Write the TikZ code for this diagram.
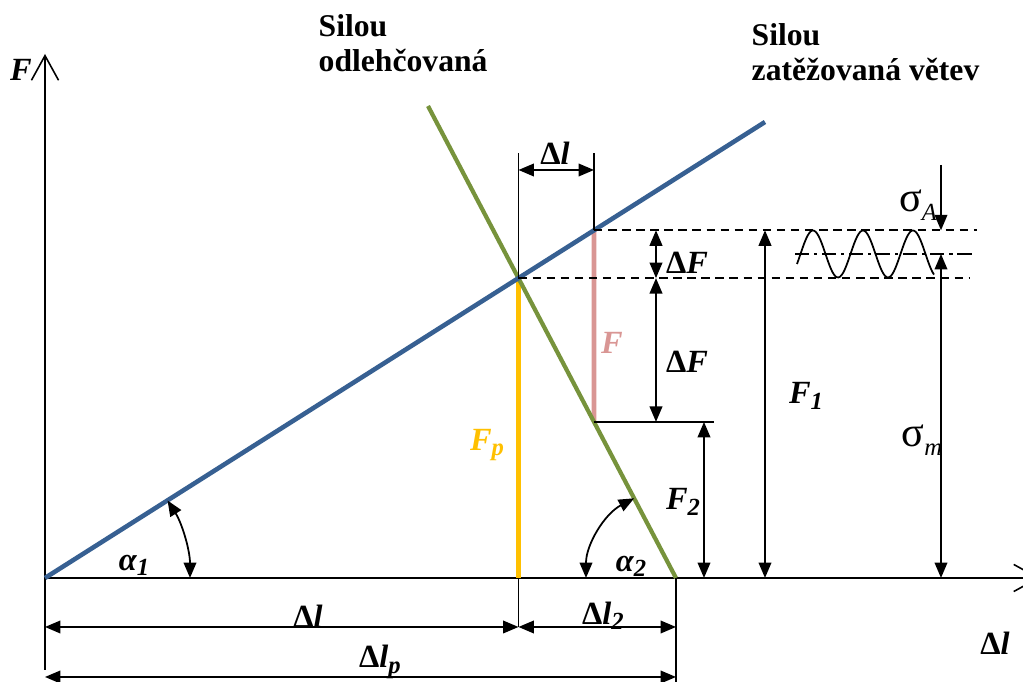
\documentclass[tikz,border=0pt]{standalone}
\usepackage{fontspec}
\setmainfont{Liberation Serif}
\usetikzlibrary{arrows.meta,calc,positioning}
\definecolor{LoadBlue}{RGB}{55,96,146}
\definecolor{UnloadGreen}{RGB}{119,147,60}
\definecolor{PreYellow}{RGB}{255,192,0}
\definecolor{ForcePink}{RGB}{217,150,148}
\newcommand{\lowidx}[2][-0.35ex]{\raisebox{#1}{\fontsize{7}{8}\selectfont #2}}
\newcommand{\dlt}{{\upshape Δ}}
\tikzset{
  axisline/.style={line width=0.45pt,-{Straight Barb[length=7pt,width=7.7pt]}},
  dimline/.style={line width=0.5pt},
  dashline/.style={line width=0.45pt,dash pattern=on 2.4pt off 1.6pt},
  midline/.style={line width=0.4pt,dash pattern=on 4pt off 1.4pt on 0.9pt off 1.4pt},
  lbl/.style={inner sep=0pt,font=\fontsize{9.2}{11}\selectfont\bfseries\itshape},
  sgm/.style={inner sep=0pt,font=\fontsize{12}{14}\selectfont},
  ttl/.style={inner sep=0pt,align=left,font=\fontsize{9}{10}\selectfont\bfseries}
}
\begin{document}
\begin{tikzpicture}[x=0.01cm,y=0.01cm,>={Triangle[length=4.4pt,width=3.6pt]}]
  \clip (0,0) rectangle (1023,682);
  \coordinate (O) at (45,104);
  \coordinate (B) at (765,560);
  \coordinate (G1) at (428,576);
  \coordinate (G) at (676,104);
  \coordinate (P) at (intersection of O--B and G1--G);
  \coordinate (Q) at ($(O)!{549/720}!(B)$);
  \coordinate (R) at ($(G1)!{166/248}!(G)$);
  \coordinate (T) at (0,529);
  \coordinate (T2) at (0,512);
  \coordinate (L1) at (45,55);
  \coordinate (L2) at (45,5);
  \coordinate (M) at (795,428);
  \coordinate (xa) at (656,0);
  \coordinate (xb) at (704,0);
  \coordinate (xc) at (765,0);
  \coordinate (xd) at (941,517);
  % osy
  \draw[axisline] (45,12) -- (45,628);
  \draw[axisline] (O) -- (1040,104);
  % charakteristiky
  \draw[line width=1.2pt,PreYellow] (P) -- (P |- O);
  \draw[line width=1.4pt,ForcePink] (Q) -- (R);
  \draw[line width=1.2pt,UnloadGreen] (G1) -- (G);
  \draw[line width=1.3pt,LoadBlue] (O) -- (B);
  % pomocne cary
  \draw[dimline] (P) -- (P |- T);
  \draw[dimline] (Q) -- (Q |- T);
  \draw[dashline] (Q) -- ++(383,0);
  \draw[dashline] (P) -- ++(452,0);
  \draw[midline] (M) -- ++(177,0);
  \draw[dimline] (R) -- ++(120,0);
  \draw[dimline] (P |- O) -- (P |- L1);
  \draw[dimline] (G) -- (G |- 0,0);
  % koty
  \draw[dimline,<->] (P |- T2) -- (Q |- T2);
  \draw[dimline,<->] (Q -| xa) -- (P -| xa);
  \draw[dimline,<->] (P -| xa) -- (R -| xa);
  \draw[dimline,<->] (R -| xb) -- (O -| xb);
  \draw[dimline,<->] (Q -| xc) -- (O -| xc);
  \draw[dimline,->] (xd) -- (Q -| xd);
  \draw[dimline,<->] (M -| xd) -- (O -| xd);
  \draw[dimline,<->] (L1) -- (P |- L1);
  \draw[dimline,<->] (P |- L1) -- (G |- L1);
  \draw[dimline,<->] (L2) -- (G |- L2);
  \draw[dimline,<->] ($(O)+(145,0)$) arc[start angle=0,end angle=32.3,radius=145];
  \draw[dimline,<->] ($(G)+(-90,0)$) arc[start angle=180,end angle=117.7,radius=90];
  % kmitani
  \draw[line width=0.5pt] plot[domain=797:934,samples=90,smooth] (\x,{428+23.5*sin(7.2*(\x-800.5))});
  % popisy
  \node[ttl,anchor=north west] (unload) at (318,668) {Silou\\odlehčovaná};
  \node[ttl,anchor=north west] (load) at (751,659) {Silou\\zatěžovaná větev};
  \node[lbl] (lF) at (21,612) {F};
  \node[lbl] (lDl) at (995,39) {\dlt l};
  \node[lbl] (lDltop) at (555,529) {\dlt l};
  \node[lbl] (lDl1) at (308,66) {\dlt l};
  \node[lbl] (lDl2) at (603,66) {\dlt l\lowidx{2}};
  \node[lbl] (lDlp) at (380,20) {\dlt l\lowidx{p}};
  \node[lbl] (la1) at (134,117) {α\lowidx{1}};
  \node[lbl] (la2) at (631,116) {α\lowidx{2}};
  \node[lbl,PreYellow] (lFp) at (487,237) {F\lowidx{p}};
  \node[lbl,ForcePink] (lFk) at (612,339) {F};
  \node[lbl] (ldF1) at (687,419) {\dlt F};
  \node[lbl] (ldF2) at (687,320) {\dlt F};
  \node[lbl] (lF1) at (806,286) {F\lowidx{1}};
  \node[lbl] (lF2) at (683,180) {F\lowidx{2}};
  \node[sgm] (lsA) at (918,477) {σ\lowidx[-2.5pt]{\itshape A}};
  \node[sgm] (lsm) at (922,242) {σ\lowidx[-2.5pt]{\itshape m}};
\end{tikzpicture}
\end{document}
